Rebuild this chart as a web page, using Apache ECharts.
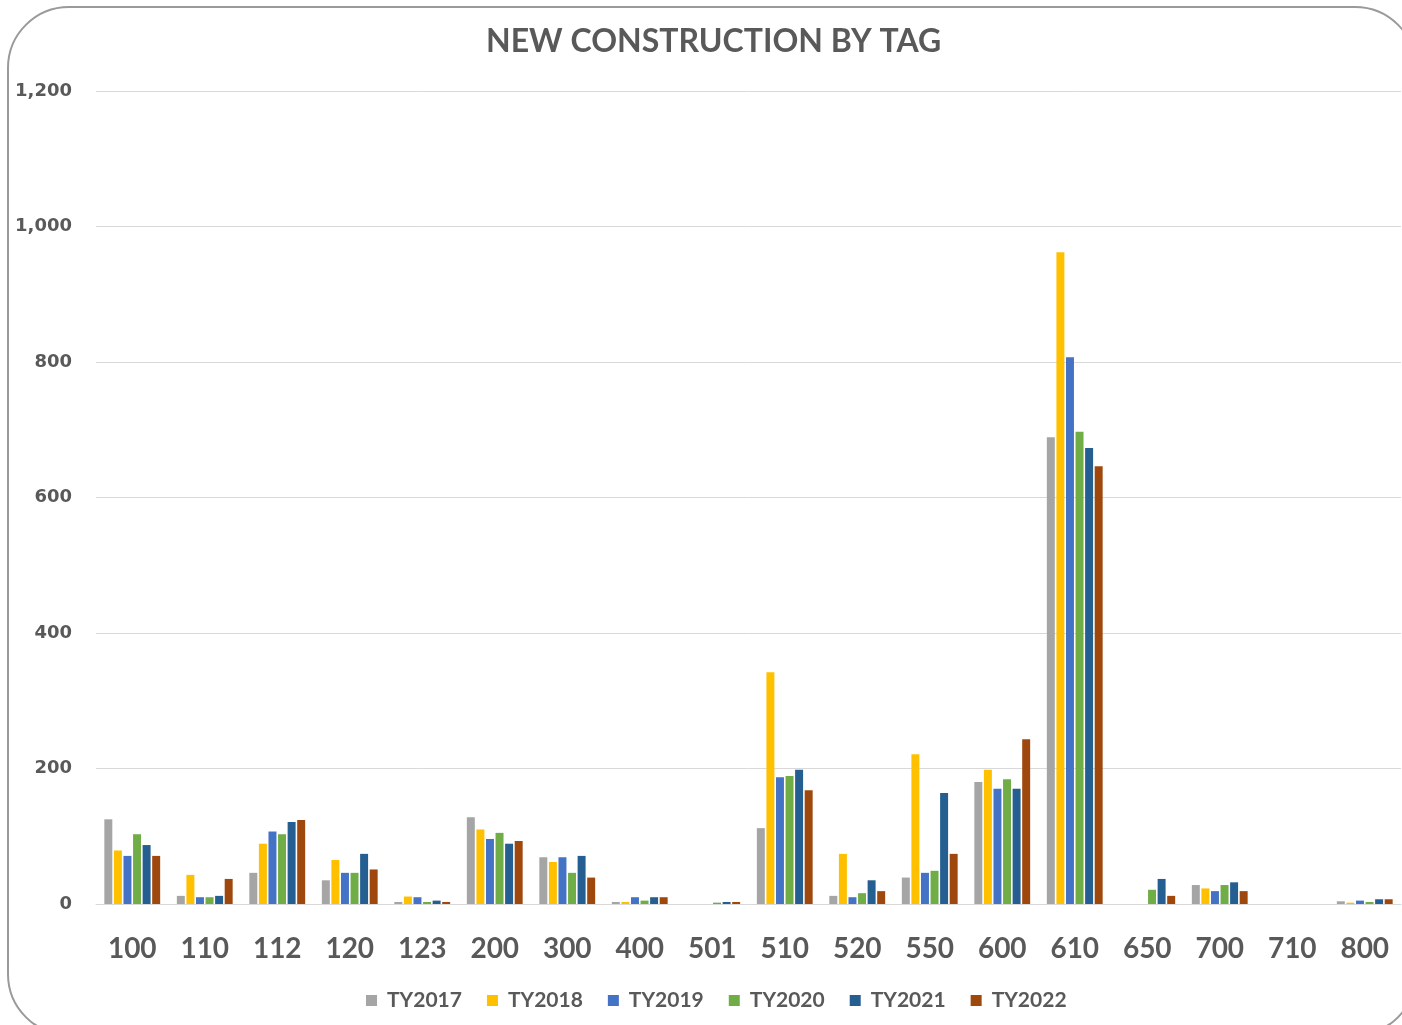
<!DOCTYPE html>
<html>
<head>
<meta charset="utf-8">
<title>New construction by tag</title>
<script src="https://cdn.jsdelivr.net/npm/echarts@6/dist/echarts.min.js"></script>
<style>
  html, body { margin: 0; padding: 0; background: #ffffff; }
  #chart { width: 1402px; height: 1025px; }
  .frame {
    position: absolute; left: 7px; top: 6px; width: 1410px; height: 1030px;
    border: 2px solid #9a9a9a; border-radius: 62px; box-sizing: border-box;
    pointer-events: none;
  }
</style>
</head>
<body>
<div id="chart"></div>
<div class="frame"></div>
<script>
// tags along the x axis
const tags = ['100', '110', '112', '120', '123', '200', '300', '400', '501', '510',
  '520', '550', '600', '610', '650', '700', '710', '800']

// counts per tax year
const ty2017 = [125, 12, 46, 35, 3, 128, 69, 3, 0, 112, 12, 39, 180, 689, 0, 28, 0, 4]
const ty2018 = [79, 43, 89, 65, 11, 110, 62, 3, 0, 342, 74, 221, 198, 962, 0, 23, 0, 2]
const ty2019 = [71, 10, 107, 46, 10, 96, 69, 10, 0, 187, 10, 46, 170, 807, 0, 19, 0, 5]
const ty2020 = [103, 10, 103, 46, 3, 105, 46, 5, 2, 189, 16, 49, 184, 697, 21, 28, 0, 3]
const ty2021 = [87, 12, 121, 74, 5, 89, 71, 10, 3, 198, 35, 164, 170, 673, 37, 32, 0, 7]
const ty2022 = [71, 37, 124, 51, 3, 93, 39, 10, 3, 168, 19, 74, 243, 646, 12, 19, 0, 7]

const yearNames = ['TY2017', 'TY2018', 'TY2019', 'TY2020', 'TY2021', 'TY2022']
const yearData = [ty2017, ty2018, ty2019, ty2020, ty2021, ty2022]
const yearColors = ['#A5A5A5', '#FFC000', '#4472C4', '#70AD47', '#255E91', '#9E480E']

const txt = '#595959'
const font = 'Lato, "Open Sans", sans-serif'

const chart = echarts.init(document.getElementById('chart'))

chart.setOption({
  animation: false,
  color: yearColors,
  title: {
    text: 'NEW CONSTRUCTION BY TAG',
    left: 481,
    top: 21,
    textStyle: { color: txt, fontSize: 32, fontWeight: 'bold', fontFamily: font }
  },
  legend: {
    data: yearNames,
    bottom: 9,
    left: 361,
    icon: 'rect',
    itemWidth: 11,
    itemHeight: 11,
    itemGap: 25,
    textStyle: {
      color: txt, fontSize: 21, fontWeight: 'bold', fontFamily: font,
      padding: [0, 0, 0, 5]
    }
  },
  grid: {
    left: 96,
    right: 1,
    top: 91,
    bottom: 121
  },
  xAxis: {
    type: 'category',
    data: tags,
    axisLine: { lineStyle: { color: '#d9d9d9' } },
    axisTick: { show: false },
    axisLabel: {
      color: txt, fontSize: 28, fontWeight: 'bold', fontFamily: font, margin: 31
    }
  },
  yAxis: {
    type: 'value',
    min: 0,
    max: 1200,
    interval: 200,
    axisLine: { show: false },
    axisTick: { show: false },
    splitLine: { lineStyle: { color: '#d9d9d9' } },
    axisLabel: {
      color: txt, fontSize: 18, fontWeight: 'bold', fontFamily: '"DejaVu Sans", sans-serif',
      margin: 24,
      formatter: v => v.toLocaleString('en-US')
    }
  },
  series: yearNames.map((name, i) => ({
    name: name,
    type: 'bar',
    data: yearData[i],
    barGap: '20%',
    barCategoryGap: '23%'
  }))
})
</script>
</body>
</html>
